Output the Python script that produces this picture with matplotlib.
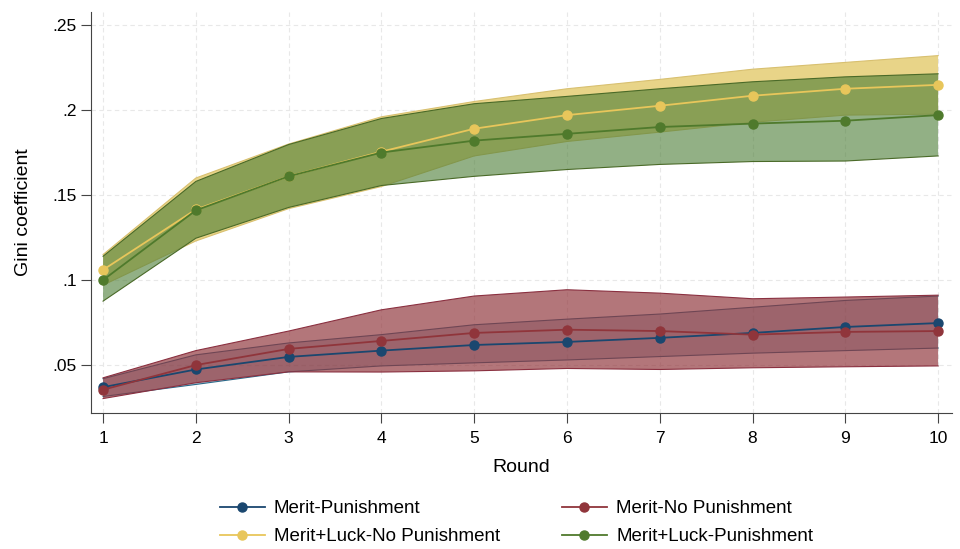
import numpy as np
import matplotlib.pyplot as plt
from matplotlib.lines import Line2D

plt.rcParams['font.family'] = ['Liberation Sans', 'DejaVu Sans']

rounds = [1, 2, 3, 4, 5, 6, 7, 8, 9, 10]

# Merit-Punishment
mp_mean = [0.037, 0.0474, 0.0548, 0.0585, 0.0618, 0.0636, 0.066, 0.0689, 0.0724, 0.0747]
mp_lo = [0.0315, 0.0386, 0.046, 0.0495, 0.0513, 0.053, 0.055, 0.057, 0.0585, 0.060]
mp_hi = [0.042, 0.056, 0.063, 0.0679, 0.0737, 0.077, 0.080, 0.084, 0.088, 0.0906]

# Merit-No Punishment
mn_mean = [0.0355, 0.050, 0.0595, 0.0642, 0.0689, 0.0708, 0.070, 0.0679, 0.0695, 0.070]
mn_lo = [0.0303, 0.0396, 0.046, 0.0459, 0.0466, 0.048, 0.0474, 0.0484, 0.049, 0.0495]
mn_hi = [0.0425, 0.0585, 0.070, 0.0825, 0.0906, 0.0943, 0.0923, 0.089, 0.090, 0.0911]

# Merit+Luck-No Punishment
ln_mean = [0.106, 0.1415, 0.161, 0.1755, 0.189, 0.197, 0.2025, 0.2084, 0.2125, 0.2148]
ln_lo = [0.097, 0.123, 0.142, 0.155, 0.173, 0.1815, 0.187, 0.1928, 0.197, 0.1976]
ln_hi = [0.115, 0.160, 0.180, 0.196, 0.205, 0.2125, 0.218, 0.224, 0.228, 0.232]

# Merit+Luck-Punishment
lp_mean = [0.100, 0.141, 0.161, 0.175, 0.182, 0.186, 0.190, 0.192, 0.1937, 0.197]
lp_lo = [0.0876, 0.1246, 0.1427, 0.1556, 0.161, 0.165, 0.168, 0.1697, 0.170, 0.173]
lp_hi = [0.114, 0.158, 0.1797, 0.195, 0.2037, 0.208, 0.2125, 0.2166, 0.2195, 0.2213]

labels = ['Merit-Punishment', 'Merit-No Punishment',
          'Merit+Luck-No Punishment', 'Merit+Luck-Punishment']
colors = ['#1a476f', '#90353b', '#e8c65b', '#4f7a2c']
fills = ['#1a476f', '#90353b', '#e8d488', '#4a7c34']
fill_alpha = [0.3, 0.68, 1.0, 0.6]
edges = ['#2a6a8a', '#8a3040', '#d8c070', '#4a6a28']

series = [(mp_mean, mp_lo, mp_hi), (mn_mean, mn_lo, mn_hi),
          (ln_mean, ln_lo, ln_hi), (lp_mean, lp_lo, lp_hi)]

fig = plt.figure(figsize=(9.6, 5.49), dpi=100)
ax = fig.add_axes([0.0948, 0.2477, 0.8969, 0.7303])

# confidence bands stacked in series order, lines on top
for k, ((m, lo, hi), fc, a, ec) in enumerate(zip(series, fills, fill_alpha, edges)):
    z = 2 + 0.2 * k
    ax.fill_between(rounds, lo, hi, facecolor=fc, alpha=a, zorder=z)
    ax.plot(rounds, lo, color=ec, lw=0.8, zorder=z + 0.1)
    ax.plot(rounds, hi, color=ec, lw=0.8, zorder=z + 0.1)
for (m, lo, hi), c in zip(series, colors):
    ax.plot(rounds, m, color=c, lw=1.3, marker='o', markersize=6.5, zorder=4)

ax.set_xlim(0.87, 10.15)
ax.set_ylim(0.0218, 0.2576)
ax.set_xticks(rounds)
ax.set_yticks([0.05, 0.1, 0.15, 0.2, 0.25])
ax.set_yticklabels(['.05', '.1', '.15', '.2', '.25'])
ax.grid(True, color='#e8e8e8', linestyle=(0, (4, 3)), linewidth=0.8, zorder=0)
ax.set_axisbelow(True)

for s in ['top', 'right']:
    ax.spines[s].set_visible(False)
for s in ['left', 'bottom']:
    ax.spines[s].set_color('#444444')
ax.tick_params(labelsize=12.5, color='#444444', length=7)
ax.tick_params(axis='x', pad=6)
ax.tick_params(axis='y', pad=3)

ax.set_xlabel('Round', fontsize=14, labelpad=9)
ax.set_ylabel('Gini coefficient', fontsize=14, labelpad=15)

# legend is filled row by row in the reference
order = [0, 2, 1, 3]
handles = [Line2D([0], [0], color=colors[i], lw=1.3, marker='o', markersize=6.5)
           for i in order]
fig.legend(handles, [labels[i] for i in order], loc='upper center',
           bbox_to_anchor=(0.538, 0.12), ncol=2, frameon=False,
           fontsize=13.5, columnspacing=3.3, handlelength=2.4,
           handletextpad=0.5, labelspacing=0.6)

fig.savefig('out.png', dpi=100, facecolor='white')
